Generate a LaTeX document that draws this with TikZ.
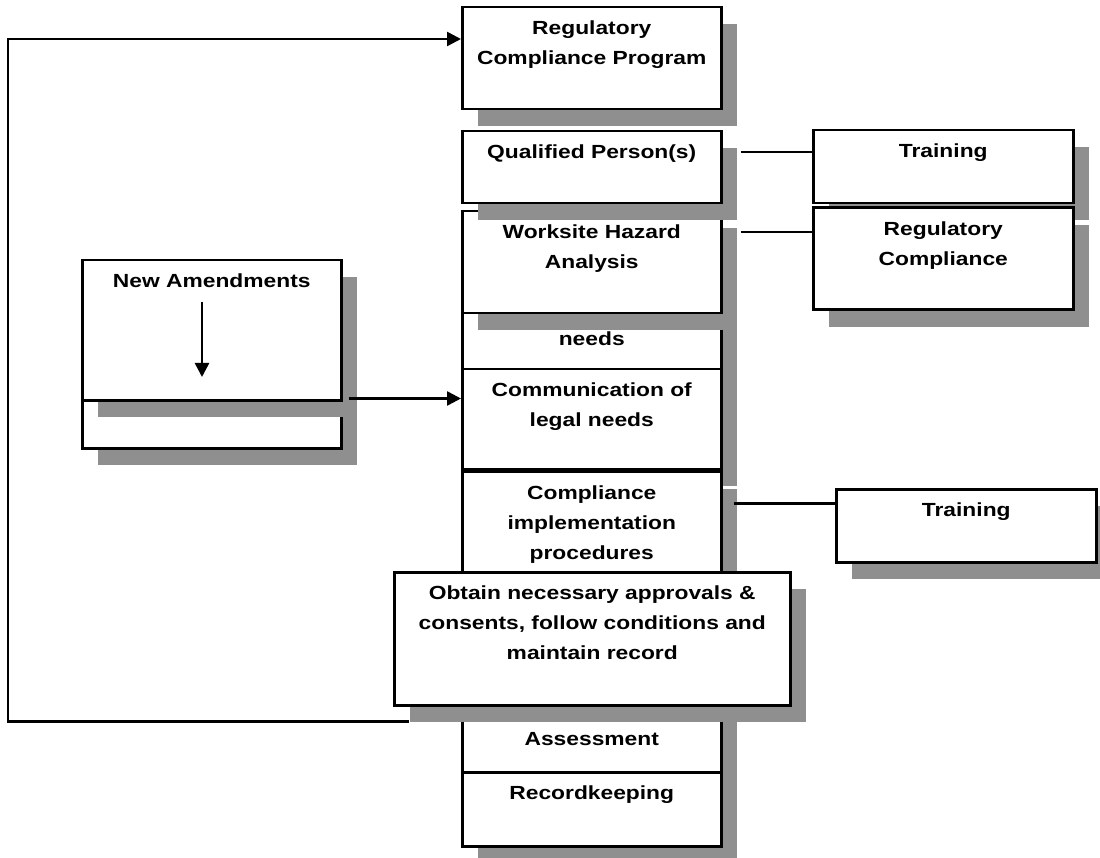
\documentclass[tikz,border=0pt]{standalone}
\usepackage{fontspec}
\setmainfont{Liberation Sans}[FakeStretch=1.2]
\usetikzlibrary{arrows.meta, positioning, calc, shadows}
\definecolor{shadowgray}{HTML}{8F8F8F}
\newcommand{\boxfont}{\bfseries\fontsize{19}{30}\selectfont}
\tikzset{
    box/.style={rectangle, draw=black, line width=2.5pt, fill=white, anchor=north west, inner sep=0pt, minimum width=259pt,
        drop shadow={shadow xshift=16pt, shadow yshift=-17pt, fill=shadowgray, opacity=1}},
    boxtext/.style={inner sep=0pt, align=center, font=\boxfont},
    titled/.style={label={[boxtext, anchor=north, yshift=-15pt]north:#1}},
    tailtext/.style 2 args={label={[boxtext, anchor=south, yshift=#1]south:#2}},
    link/.style={line width=2.5pt},
    arrow/.style={link, -{Triangle[length=14pt, width=14pt]}}
}
\begin{document}
\begin{tikzpicture}[x=1pt, y=-1pt]
    \fill[white] (0,0) rectangle (1100,858);
    \useasboundingbox (0,0) rectangle (1100,858);

    % --- New Amendments (stacked) ---
    \node (naback) [box, minimum height=147pt] at (81,300) {};
    \node (na) [box, minimum height=140pt, titled={New Amendments}] at (81,259) {};
    \coordinate (na-top) at ([shift={(121,43)}]na.north west);
    \coordinate (na-tip) at ([shift={(121,118)}]na.north west);
    \draw [arrow] (na-top) -- (na-tip);

    % --- Main column ---
    \node (rcp) [box, minimum height=102pt, titled={Regulatory\\Compliance Program}] at (461,6) {};
    \node (needs) [box, minimum height=153pt, tailtext={25pt}{needs}] at (461,215) {};
    \node (wha) [box, minimum height=102pt, titled={Worksite Hazard\\Analysis}] at (461,210) {};
    \node (qp) [box, minimum height=72pt, titled={Qualified Person(s)}] at (461,130) {};
    \node (comm) [box, minimum height=100pt, titled={Communication of\\legal needs}] at (461,368) {};
    \node (cip) [box, minimum height=100pt, below=0pt of comm, titled={Compliance\\implementation\\procedures}] {};
    \node (asm) [box, minimum height=81pt, tailtext={28pt}{Assessment}] at (461,690) {};
    \node (obt) [box, minimum width=396pt, minimum height=133pt,
        titled={Obtain necessary approvals \&\\consents, follow conditions and\\maintain record}] at (393,571) {};
    \node (rec) [box, minimum height=74pt, below=-2.5pt of asm, titled={Recordkeeping}] {};

    % --- Right column ---
    \node (tr1) [box, minimum width=260pt, minimum height=73pt, titled={Training}] at (812,129) {};
    \node (rc) [box, minimum width=260pt, minimum height=102pt, below=2pt of tr1, titled={Regulatory\\Compliance}] {};
    \node (tr2) [box, minimum width=260pt, minimum height=73pt, titled={Training}] at (835,488) {};

    % --- Links ---
    \draw [link] ([shift={(18,22)}]qp.north east) coordinate (qp-out) -- (qp-out -| tr1.west);
    \draw [link] ([shift={(18,22)}]wha.north east) coordinate (wha-out) -- (wha-out -| rc.west);
    \draw [link] ([shift={(11,33)}]cip.north east) coordinate (cip-out) -- (cip-out -| tr2.west);
    \draw [arrow] ([shift={(6,-3)}]na.south east) coordinate (na-out) -- (na-out -| comm.west);

    % --- Feedback loop ---
    \coordinate (loop-top) at (8,39);
    \draw [arrow] ([shift={(16,15)}]obt.south west) coordinate (loop-in) -| (loop-top) -- (loop-top -| rcp.west);
\end{tikzpicture}
\end{document}
